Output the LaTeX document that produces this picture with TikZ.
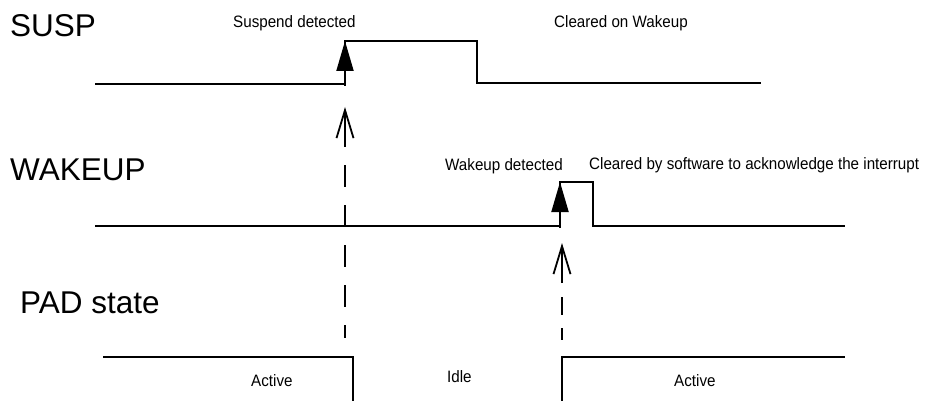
\documentclass[tikz,border=0pt]{standalone}
\usepackage{fontspec}
\setmainfont{Liberation Sans}
\newfontfamily\notefont[FakeStretch=0.92]{Liberation Sans}
\usetikzlibrary{arrows.meta}
\tikzset{
  signal/.style={line width=2.6pt},
  detect/.style={line width=2pt, -{Triangle[length=30pt,width=17pt]}},
  cause/.style={line width=2pt, -{Straight Barb[length=28pt,width=17pt,line width=1.8pt]}},
  guide/.style={line width=2.2pt},
  signame/.style={inner sep=0pt, anchor=base west, font=\fontsize{31.5}{34}\selectfont},
  note/.style={inner sep=0pt, anchor=base west, font=\notefont\fontsize{16.5}{18}\selectfont},
}

\begin{document}
\begin{tikzpicture}[x=1pt, y=-1pt]
      \useasboundingbox (0,0) rectangle (934,401);
      % signal names
      \node[signame] (susp) at (10,37) {SUSP};
      \node[signame] (wake) at (10,180) {WAKEUP};
      \node[signame] (pad) at (20,313) {PAD state};
      % SUSP
      \draw[signal] (95,84) -- (345,84) -- (345,41) -- (477,41) -- (477,83) -- (761,83);
      \draw[detect] (345,86) -- (345,41);
      \node[note] (suspdet) at (233,28) {Suspend detected};
      \node[note] (suspclr) at (554,28) {Cleared on Wakeup};
      % WAKEUP
      \draw[signal] (95,226) -- (560,226) -- (560,182) -- (593,182) -- (593,226) -- (845,226);
      \draw[detect] (560,228) -- (560,182);
      \node[note] (wakedet) at (445,170) {Wakeup detected};
      \node[note] (wakeclr) at (589,169) {Cleared by software to acknowledge the interrupt};
      % PAD state
      \draw[signal] (103,357) -- (353,357) -- (353,401);
      \draw[signal] (562,401) -- (562,357) -- (845,357);
      \node[note] (act1) at (251,386) {Active};
      \node[note] (idle) at (447,382) {Idle};
      \node[note] (act2) at (674,386) {Active};
      % causes
      \draw[cause] (345,147) -- (345,107);
      \draw[guide, dash pattern=on 22pt off 18pt] (345,165) -- (345,338);
      \draw[cause] (562,283) -- (562,243);
      \draw[guide, dash pattern=on 18pt off 13pt] (562,297) -- (562,340);
    \end{tikzpicture}
\end{document}
